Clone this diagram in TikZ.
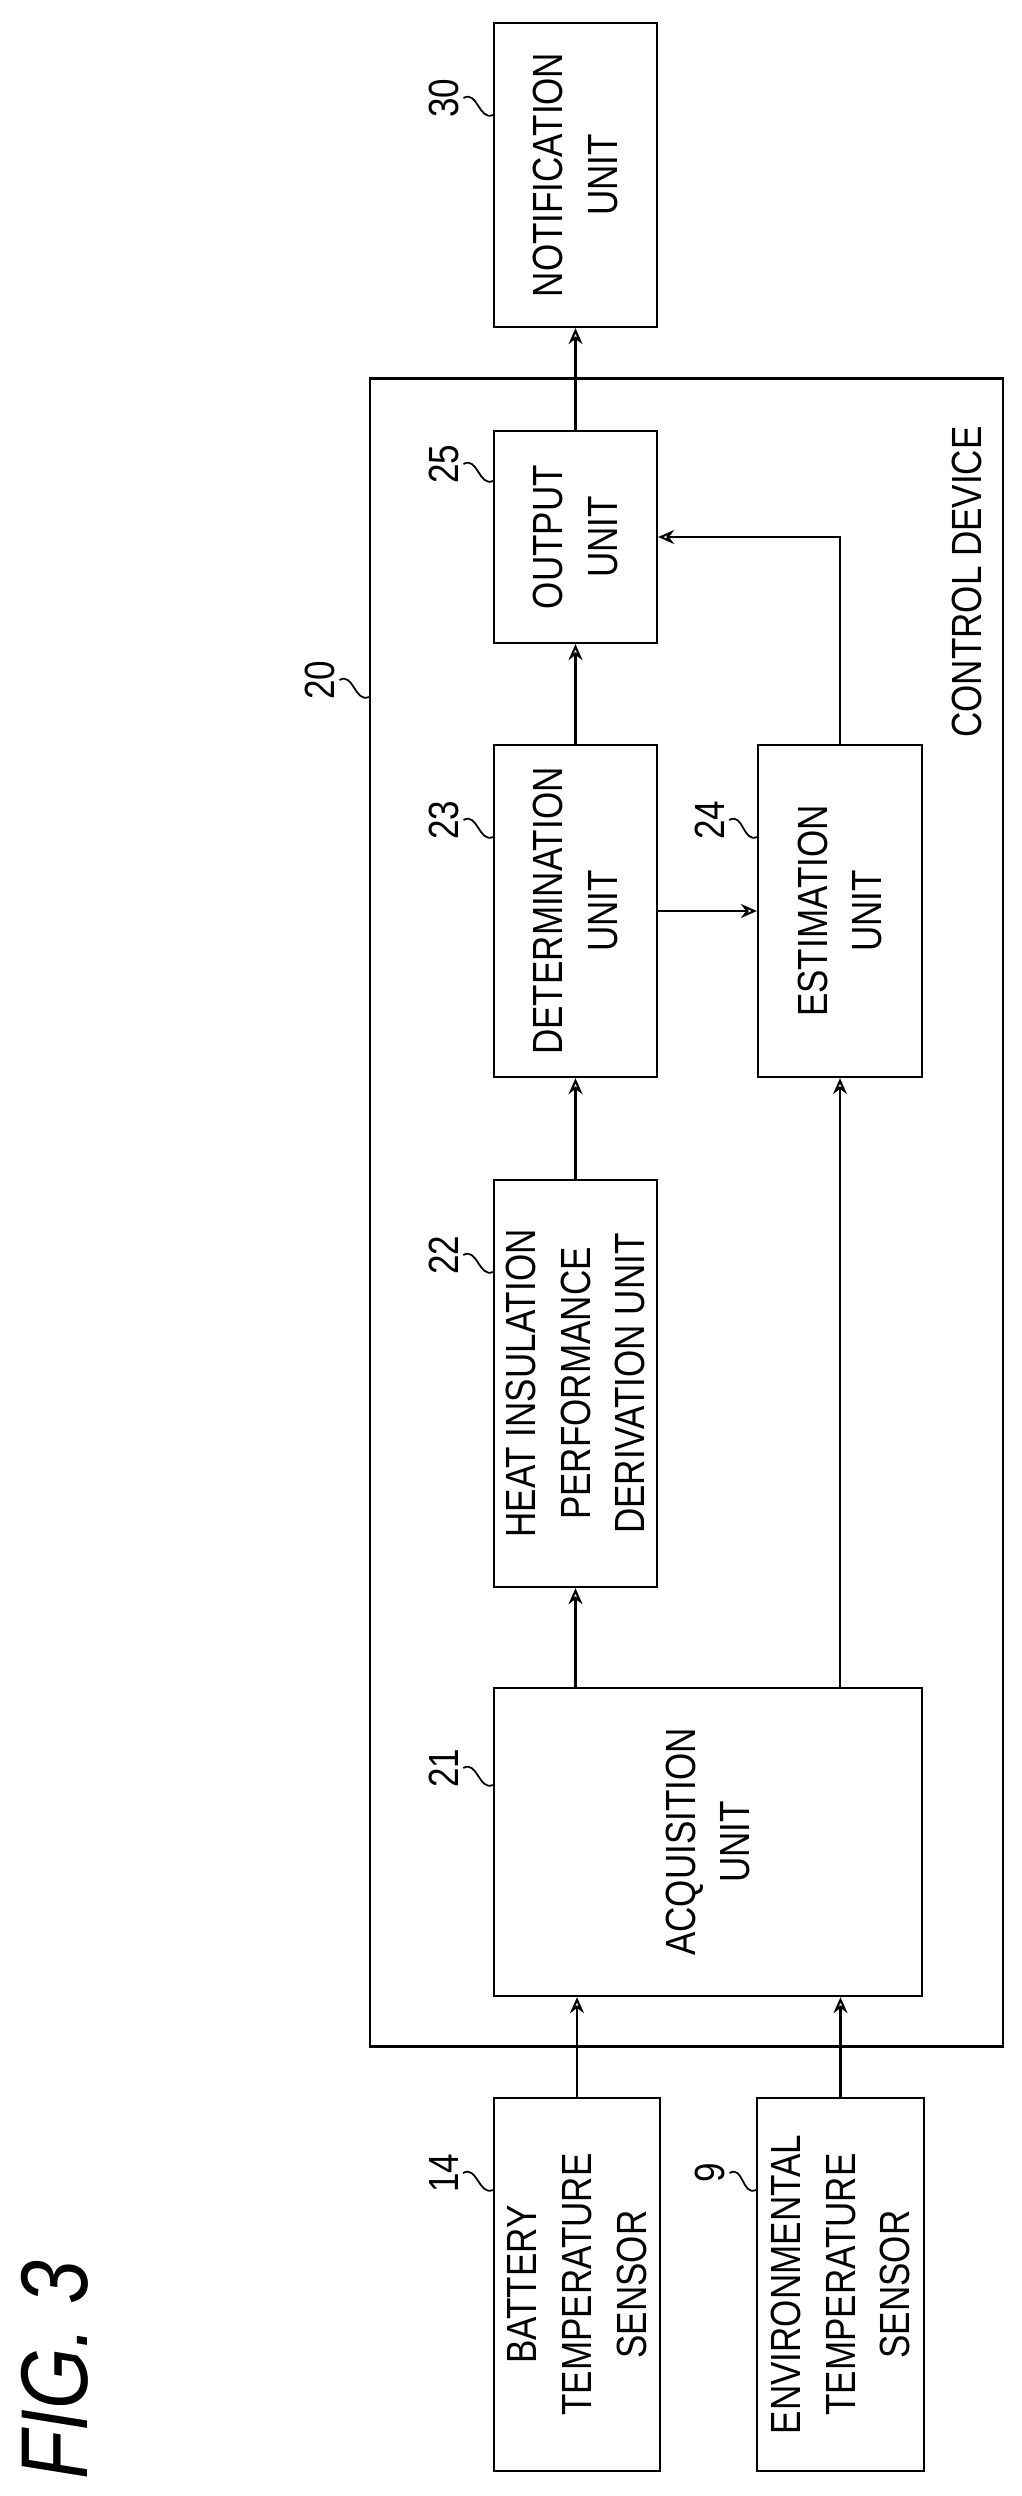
\documentclass[tikz,border=0pt]{standalone}
\usepackage{fontspec}
\setmainfont{Liberation Sans}[FakeStretch=0.83]
\usetikzlibrary{calc, positioning, arrows.meta}

\begin{document}
\begin{tikzpicture}[x=0.01cm, y=-0.01cm, line width=0.6pt,
    block/.style={draw, rotate=90, align=center, inner sep=0pt,
      font=\fontsize{12}{15.6}\selectfont},
    num/.style={rotate=90, inner sep=1pt, font=\fontsize{12}{14}\selectfont},
    arr/.style={-{Stealth[open, length=1.6mm, width=1.4mm]}},
    lead/.style={line width=0.5pt}]
    \useasboundingbox (0,0) rectangle (1022,2496);

    % Control device frame
    \node[draw, rotate=90, minimum width=16.67cm, minimum height=6.33cm, inner sep=0pt] (ctrl) at (686.5,1212.5) {};
    \node[num] (ctrltext) at (967,582) {CONTROL DEVICE};

    % Blocks (rotated, text reads upwards)
    \node[block, minimum width=3.04cm, minimum height=1.63cm] (notif) at (575.5,175) {NOTIFICATION\\UNIT};
    \node[block, minimum width=2.12cm, minimum height=1.63cm] (out) at (575.5,537) {OUTPUT\\UNIT};
    \node[block, minimum width=3.32cm, minimum height=1.63cm] (det) at (575.5,911) {DETERMINATION\\UNIT};
    \node[block, minimum width=3.32cm, minimum height=1.64cm] (est) at (840,911) {ESTIMATION\\UNIT};
    \node[block, minimum width=4.07cm, minimum height=1.63cm] (heat) at (575.5,1383.5) {HEAT INSULATION\\PERFORMANCE\\DERIVATION UNIT};
    \node[block, minimum width=3.08cm, minimum height=4.28cm] (acq) at (708,1842) {ACQUISITION\\UNIT};
    \node[block, minimum width=3.73cm, minimum height=1.66cm] (bat) at (577,2284.5) {BATTERY\\TEMPERATURE\\SENSOR};
    \node[block, minimum width=3.73cm, minimum height=1.67cm] (env) at (840.5,2284.5) {ENVIRONMENTAL\\TEMPERATURE\\SENSOR};

    % Signal flow
    \draw[arr] (bat.east) -- (bat.east |- acq.west);
    \draw[arr] (env.east) -- (env.east |- acq.west);
    \draw[arr] (heat.west |- acq.east) -- (heat.west);
    \draw[arr] (est.west |- acq.east) -- (est.west);
    \draw[arr] (heat.east) -- (det.west);
    \draw[arr] (det.south) -- (est.north);
    \draw[arr] (det.east) -- (out.west);
    \draw[arr] (est.east) |- (out.south);
    \draw[arr] (out.east) -- (notif.west);

    % Reference numerals with leaders
    \foreach \lab/\tgt/\px/\py in {30/notif/444/98, 25/out/444/464, 23/det/444/820, 24/est/710/820,
        22/heat/444/1255, 21/acq/444/1768, 14/bat/444/2173, 9/env/710/2173, 20/ctrl/320/680} {
      \node[num] (n\lab) at (\px,\py) {\lab};
      \draw[lead] (n\lab.south) .. controls +(14,-8) and +(-14,6) .. ($(n\lab.south -| \tgt.north)+(0,17)$);
    }

    % Figure caption
    \node[rotate=90, font=\fontsize{27}{30}\selectfont\itshape] (fig) at (55,2370) {FIG. 3};
\end{tikzpicture}
\end{document}
